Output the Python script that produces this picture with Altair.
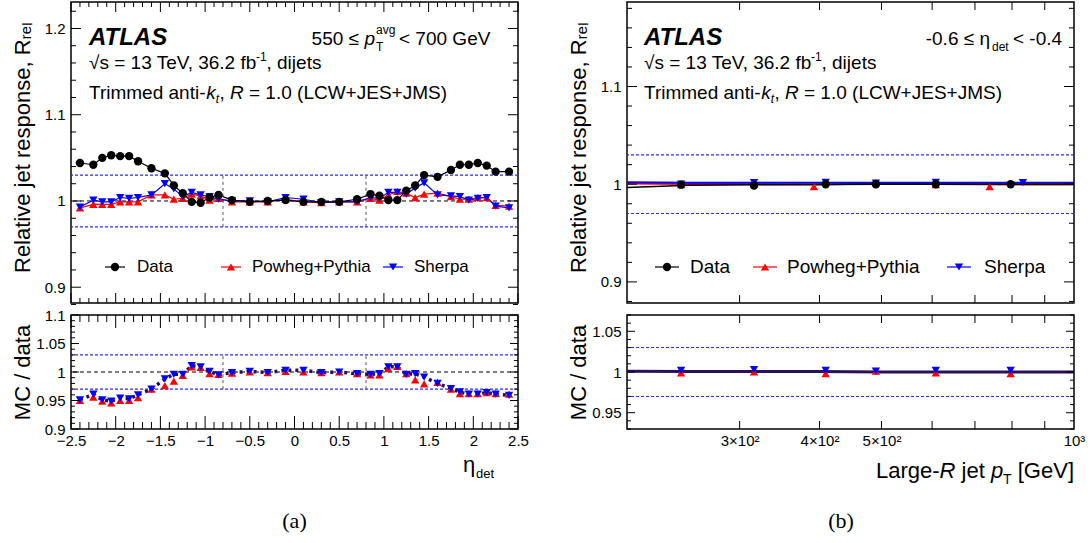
import altair as alt
import pandas as pd

# ---------------- panel (a): relative response vs eta_det ----------------
eta_det = [-2.4, -2.25, -2.15, -2.05, -1.95, -1.85, -1.75, -1.6, -1.45, -1.35, -1.25, -1.15, -1.05, -0.95, -0.85, -0.7, -0.5, -0.3, -0.1,
           0.1, 0.3, 0.5, 0.7, 0.85, 0.95, 1.05, 1.15, 1.25, 1.35, 1.45, 1.6, 1.75, 1.85, 1.95, 2.05, 2.15, 2.25, 2.4]
resp_data_a = [1.044, 1.042, 1.050, 1.053, 1.052, 1.052, 1.046, 1.038, 1.032, 1.018, 1.009, 0.999, 0.998, 1.004, 1.007, 1.001, 0.999, 1.000, 1.001,
               0.999, 0.999, 0.999, 1.002, 1.008, 1.006, 1.001, 1.001, 1.012, 1.018, 1.030, 1.028, 1.036, 1.042, 1.042, 1.044, 1.041, 1.034, 1.034]
resp_powheg_a = [0.992, 0.996, 0.996, 0.996, 0.999, 0.999, 0.999, 1.007, 1.007, 1.002, 1.003, 1.008, 1.006, 1.001, 1.003, 0.999, 0.999, 0.999, 1.002,
                 0.999, 0.998, 0.999, 0.999, 1.003, 1.001, 1.007, 1.011, 1.009, 1.004, 1.008, 1.009, 1.005, 1.002, 1.002, 1.004, 1.004, 0.995, 0.994]
resp_sherpa_a = [0.993, 1.001, 0.999, 0.999, 1.004, 1.003, 1.004, 1.007, 1.020, 1.014, 1.005, 1.010, 1.007, 1.005, 1.002, 1.000, 1.000, 0.999, 1.004,
                 1.002, 0.998, 0.999, 0.999, 1.004, 1.003, 1.010, 1.010, 1.008, 1.015, 1.021, 1.007, 1.006, 1.005, 1.001, 1.003, 1.004, 0.994, 0.992]
ratio_powheg_a = [0.950, 0.956, 0.949, 0.946, 0.950, 0.950, 0.955, 0.970, 0.976, 0.984, 0.994, 1.009, 1.008, 0.997, 0.996, 0.998, 1.000, 0.999, 1.001,
                  1.000, 0.999, 1.000, 0.997, 0.995, 0.995, 1.006, 1.010, 0.997, 0.986, 0.979, 0.982, 0.970, 0.962, 0.962, 0.962, 0.964, 0.962, 0.961]
ratio_sherpa_a = [0.951, 0.961, 0.951, 0.949, 0.954, 0.953, 0.960, 0.970, 0.988, 0.996, 0.996, 1.011, 1.009, 1.001, 0.995, 0.999, 1.001, 0.999, 1.003,
                  1.003, 0.999, 1.000, 0.997, 0.996, 0.997, 1.009, 1.009, 0.996, 0.997, 0.991, 0.980, 0.971, 0.965, 0.961, 0.961, 0.964, 0.961, 0.959]

# ---------------- panel (b): relative response vs large-R jet pT ----------------
pt_data_b = [243, 316, 409, 490, 608, 796]
resp_data_b = [0.9995, 0.9987, 1.000, 1.000, 1.000, 1.000]
pt_powheg_b = [243, 316, 392, 490, 608, 738]
resp_powheg_b = [0.9995, 1.000, 0.9975, 1.0015, 0.9995, 0.9975]
pt_sherpa_b = [243, 316, 409, 490, 608, 832]
resp_sherpa_b = [1.000, 1.0015, 1.002, 1.001, 1.002, 1.0015]
ratio_powheg_b = [0.999, 1.000, 0.998, 1.001, 0.999, 0.998]
ratio_sherpa_b = [1.002, 1.003, 1.002, 1.001, 1.002, 1.002]
curve_pt_b = [200, 250, 320, 400, 500, 600, 800, 1000]
curve_data_b = [0.9965, 0.999, 0.9995, 0.9998, 1.000, 1.000, 1.000, 1.000]
curve_powheg_b = [1.0005, 1.000, 1.000, 0.9995, 1.0005, 1.000, 0.9995, 0.9995]
curve_sherpa_b = [1.002, 1.0015, 1.0015, 1.0015, 1.0015, 1.0015, 1.0015, 1.0015]
curve_ratio_b = [1.001, 1.0005, 1.0005, 1.0005, 1.000, 1.000, 1.000, 1.000]

band_levels = [0.97, 1.03]
unity = [1.0]
central_eta_edges = [-0.8, 0.8]

series_names = ["Data", "Powheg+Pythia", "Sherpa"]
series_colors = ["#000000", "#ff0000", "#0000ff"]
series_shapes = ["circle", "triangle-up", "triangle-down"]

# tick positions / labels
xa_major = [-2.5, -2.0, -1.5, -1.0, -0.5, 0.0, 0.5, 1.0, 1.5, 2.0, 2.5]
xa_minor = [round(-2.5 + 0.1 * i, 1) for i in range(51) if i % 5]
ya1_major = [0.9, 1.0, 1.1, 1.2]
ya1_minor = [0.88, 0.92, 0.94, 0.96, 0.98, 1.02, 1.04, 1.06, 1.08, 1.12, 1.14, 1.16, 1.18, 1.22]
ya2_major = [0.9, 0.95, 1.0, 1.05, 1.1]
ya2_minor = [round(0.9 + 0.01 * i, 2) for i in range(21) if i % 5]
xb_ticks = [300, 400, 500, 600, 700, 800, 900]
xb_labels = [300, 400, 500, 1000]
yb1_major = [0.9, 1.0, 1.1]
yb1_minor = [0.88, 0.92, 0.94, 0.96, 0.98, 1.02, 1.04, 1.06, 1.08, 1.12, 1.14, 1.16, 1.18]
yb2_major = [0.95, 1.0, 1.05]
yb2_minor = [0.93, 0.94, 0.96, 0.97, 0.98, 0.99, 1.01, 1.02, 1.03, 1.04, 1.06, 1.07]

FONT = "Liberation Sans"
W, H1, H2 = 447, 301, 114
BLUE_REF = "#2a2aff"
DARK = "#2a0f5c"
LEG_Y = 265

xs_a = alt.Scale(domain=[-2.5, 2.5], nice=False, zero=False)
ys_a1 = alt.Scale(domain=[0.8817, 1.2307], nice=False, zero=False)
ys_a2 = alt.Scale(domain=[0.9, 1.1], nice=False, zero=False)
xs_b = alt.Scale(type="log", domain=[200, 1000], nice=False)
ys_b1 = alt.Scale(domain=[0.8784, 1.1865], nice=False, zero=False)
ys_b2 = alt.Scale(domain=[0.93, 1.07], nice=False, zero=False)


def yaxis(vals, title, title_y):
    return alt.Axis(values=vals, format=".2~f", ticks=False, domain=False, grid=False, orient="left",
                    labelPadding=6, labelFontSize=15, labelFont=FONT, labelColor="black",
                    title=title, titleX=-41.5, titleY=title_y, titleBaseline="alphabetic", titleAngle=270,
                    titleAlign="center", titleFontSize=22, titleFont=FONT, titleFontWeight="normal",
                    titleColor="black")


def xaxis(vals, fmt=None, expr=None):
    kw = dict(values=vals, ticks=False, domain=False, grid=False, orient="bottom", labelPadding=4,
              labelFontSize=15, labelFont=FONT, labelColor="black", title=None, labelFlush=False)
    if fmt:
        kw["format"] = fmt
    if expr:
        kw["labelExpr"] = expr
    return alt.Axis(**kw)


class Panel:
    def __init__(self, xs, ys, xa, ya, h):
        self.xs, self.ys, self.xa, self.ya, self.h = xs, ys, xa, ya, h

    def X(self, f):
        return alt.X(f, scale=self.xs, axis=self.xa)

    def Y(self, f):
        return alt.Y(f, scale=self.ys, axis=self.ya)

    def line(self, xs, ys, color, width=1.2, dash=None):
        kw = dict(color=color, strokeWidth=width)
        if dash:
            kw["strokeDash"] = dash
        return alt.Chart(pd.DataFrame({"x": xs, "y": ys})).mark_line(**kw).encode(x=self.X("x:Q"), y=self.Y("y:Q"))

    def pts(self, xs, ys, color, shape, size=70):
        return alt.Chart(pd.DataFrame({"x": xs, "y": ys})).mark_point(
            filled=True, color=color, shape=shape, size=size, opacity=1).encode(x=self.X("x:Q"), y=self.Y("y:Q"))

    def hrules(self, levels, color, dash, width=1.0):
        return alt.Chart(pd.DataFrame({"y": levels})).mark_rule(
            color=color, strokeDash=dash, strokeWidth=width).encode(y=self.Y("y:Q"))

    def vrules(self, xv):
        df = pd.DataFrame({"x": xv, "lo": [band_levels[0]] * len(xv), "hi": [band_levels[1]] * len(xv)})
        return alt.Chart(df).mark_rule(color="#555555", strokeDash=[3, 3], strokeWidth=1).encode(
            x=self.X("x:Q"), y=self.Y("lo:Q"), y2="hi:Q")

    def ticks(self, xsets, ysets):
        out = []
        for vals, size in xsets:
            base = alt.Chart(pd.DataFrame({"v": vals})).mark_rule(color="black", strokeWidth=1)
            out.append(base.encode(x=self.X("v:Q"), y=alt.value(self.h), y2=alt.value(self.h - size)))
            out.append(base.encode(x=self.X("v:Q"), y=alt.value(0), y2=alt.value(size)))
        for vals, size in ysets:
            base = alt.Chart(pd.DataFrame({"v": vals})).mark_rule(color="black", strokeWidth=1)
            out.append(base.encode(y=self.Y("v:Q"), x=alt.value(0), x2=alt.value(size)))
            out.append(base.encode(y=self.Y("v:Q"), x=alt.value(W - size), x2=alt.value(W)))
        return out


def txt(s, x, y, size=19, align="left", weight="normal", style="normal", font=FONT, baseline="alphabetic"):
    return alt.Chart(pd.DataFrame({"t": [s]})).mark_text(
        align=align, baseline=baseline, fontSize=size, fontWeight=weight, fontStyle=style, font=font, color="black"
    ).encode(x=alt.value(x), y=alt.value(y), text="t:N")


def legend_block(mark_xs, text_xs, size, half=10):
    out = []
    one = pd.DataFrame({"a": [0]})
    for name, color, shape, mx, tx in zip(series_names, series_colors, series_shapes, mark_xs, text_xs):
        out.append(alt.Chart(one).mark_rule(color=color, strokeWidth=1.2).encode(
            x=alt.value(mx - half), x2=alt.value(mx + half), y=alt.value(LEG_Y)))
        out.append(alt.Chart(one).mark_point(filled=True, color=color, shape=shape, size=70, opacity=1).encode(
            x=alt.value(mx), y=alt.value(LEG_Y)))
        out.append(txt(name, tx, LEG_Y, size, baseline="middle"))
    return out


def header(x0, right_pieces):
    items = [
        txt("ATLAS", x0, 43, 24, weight="bold", style="italic"),
        txt("√s = 13 TeV, 36.2 fb", x0, 67),
        txt("-1", x0 + 167, 59, 12),
        txt(", dijets", x0 + 177.5, 67),
        txt("Trimmed anti-", x0, 97),
        txt("k", x0 + 117.2, 97, style="italic"),
        txt("t", x0 + 126.7, 101, 12, style="italic"),
        txt(",", x0 + 130.5, 97),
        txt("R", x0 + 141.0, 97, style="italic"),
        txt("= 1.0 (LCW+JES+JMS)", x0 + 160.0, 97),
    ]
    return items + right_pieces


BAND_DASH = [3, 2]

# ---------------- panel (a) top ----------------
pa1 = Panel(xs_a, ys_a1, None, yaxis(ya1_major, "Relative jet response, Rᵣₑₗ", 145), H1)
top_a = alt.layer(
    pa1.hrules(band_levels, BLUE_REF, BAND_DASH, 1.1),
    pa1.hrules(unity, "black", [4, 3]),
    pa1.vrules(central_eta_edges),
    pa1.line(eta_det, resp_powheg_a, "#ff0000"),
    pa1.line(eta_det, resp_sherpa_a, "#0000ff"),
    pa1.line(eta_det, resp_data_a, "black"),
    pa1.pts(eta_det, resp_powheg_a, "#ff0000", "triangle-up"),
    pa1.pts(eta_det, resp_sherpa_a, "#0000ff", "triangle-down"),
    pa1.pts(eta_det, resp_data_a, "black", "circle"),
    *legend_block([44, 160, 322], [66, 181, 343], 17, half=10),
    *header(18, [
        txt("550 ≤", 288, 43, align="right"),
        txt("p", 293.5, 43, style="italic"),
        txt("avg", 305, 32, 12),
        txt("T", 305, 49, 12),
        txt("< 700 GeV", 328, 43),
    ]),
    *pa1.ticks([(xa_major, 10), (xa_minor, 5)], [(ya1_major, 10), (ya1_minor, 5)]),
).properties(width=W, height=H1)

# ---------------- panel (a) ratio ----------------
pa2 = Panel(xs_a, ys_a2, xaxis(xa_major, fmt=".1~f"), yaxis(ya2_major, "MC / data", H2 / 2), H2)
bottom_a = alt.layer(
    pa2.hrules(band_levels, BLUE_REF, BAND_DASH, 1.1),
    pa2.hrules(unity, "black", [4, 3]),
    pa2.vrules(central_eta_edges),
    pa2.line(eta_det, ratio_sherpa_a, DARK, width=3.5, dash=[3, 4]),
    pa2.pts(eta_det, ratio_powheg_a, "#ff0000", "triangle-up"),
    pa2.pts(eta_det, ratio_sherpa_a, "#0000ff", "triangle-down"),
    txt("η", 392, 157, 22),
    txt("det", 405, 163, 13),
    txt("(a)", W / 2, 213, 22, align="center", font="Liberation Serif"),
    *pa2.ticks([(xa_major, 13), (xa_minor, 7)], [(ya2_major, 8), (ya2_minor, 4)]),
).properties(width=W, height=H2)

# ---------------- panel (b) top ----------------
pb1 = Panel(xs_b, ys_b1, None, yaxis(yb1_major, "Relative jet response, Rᵣₑₗ", 145), H1)
top_b = alt.layer(
    pb1.hrules(band_levels, BLUE_REF, BAND_DASH, 1.1),
    pb1.line(curve_pt_b, curve_powheg_b, "#ff0000", width=1.8),
    pb1.line(curve_pt_b, curve_sherpa_b, "#0000ff", width=1.8),
    pb1.line(curve_pt_b, curve_data_b, "black", width=1.5),
    pb1.pts(pt_powheg_b, resp_powheg_b, "#ff0000", "triangle-up"),
    pb1.pts(pt_sherpa_b, resp_sherpa_b, "#0000ff", "triangle-down"),
    pb1.pts(pt_data_b, resp_data_b, "black", "circle"),
    *legend_block([40, 138, 332], [63, 160, 357], 19, half=12),
    *header(17, [
        txt("-0.6 ≤ η", 363, 43, align="right"),
        txt("det", 365, 49, 12),
        txt("< -0.4", 386, 43),
    ]),
    *pb1.ticks([(xb_ticks, 8)], [(yb1_major, 10), (yb1_minor, 5)]),
).properties(width=W, height=H1)

# ---------------- panel (b) ratio ----------------
pb2 = Panel(xs_b, ys_b2,
            xaxis(xb_labels, expr="datum.value == 1000 ? '10³' : format(datum.value / 100, 'd') + '×10²'"),
            yaxis(yb2_major, "MC / data", H2 / 2), H2)
bottom_b = alt.layer(
    pb2.hrules(band_levels, BLUE_REF, BAND_DASH, 1.1),
    pb2.line(curve_pt_b, curve_ratio_b, DARK, width=3),
    pb2.pts(pt_data_b, ratio_powheg_b, "#ff0000", "triangle-up"),
    pb2.pts(pt_data_b, ratio_sherpa_b, "#0000ff", "triangle-down"),
    txt("Large-", 249, 163, 22),
    txt("R", 312.6, 163, 22, style="italic"),
    txt("jet", 334.6, 163, 22),
    txt("p", 363.9, 163, 22, style="italic"),
    txt("T", 376.1, 169, 14),
    txt("[GeV]", W, 163, 22, align="right"),
    txt("(b)", 214, 213, 22, align="center", font="Liberation Serif"),
    *pb2.ticks([(xb_ticks, 8)], [(yb2_major, 8), (yb2_minor, 4)]),
).properties(width=W, height=H2)

col_a = alt.vconcat(top_a, bottom_a, spacing=12, bounds="flush")
col_b = alt.vconcat(top_b, bottom_b, spacing=12, bounds="flush")

chart = alt.hconcat(col_a, col_b, spacing=36).properties(
    padding={"left": 10, "top": 0, "right": 0, "bottom": 0}, background="white"
).configure_view(stroke="black", strokeWidth=1.5)

chart.save("out.html", embed_options={"renderer": "svg", "actions": False})
